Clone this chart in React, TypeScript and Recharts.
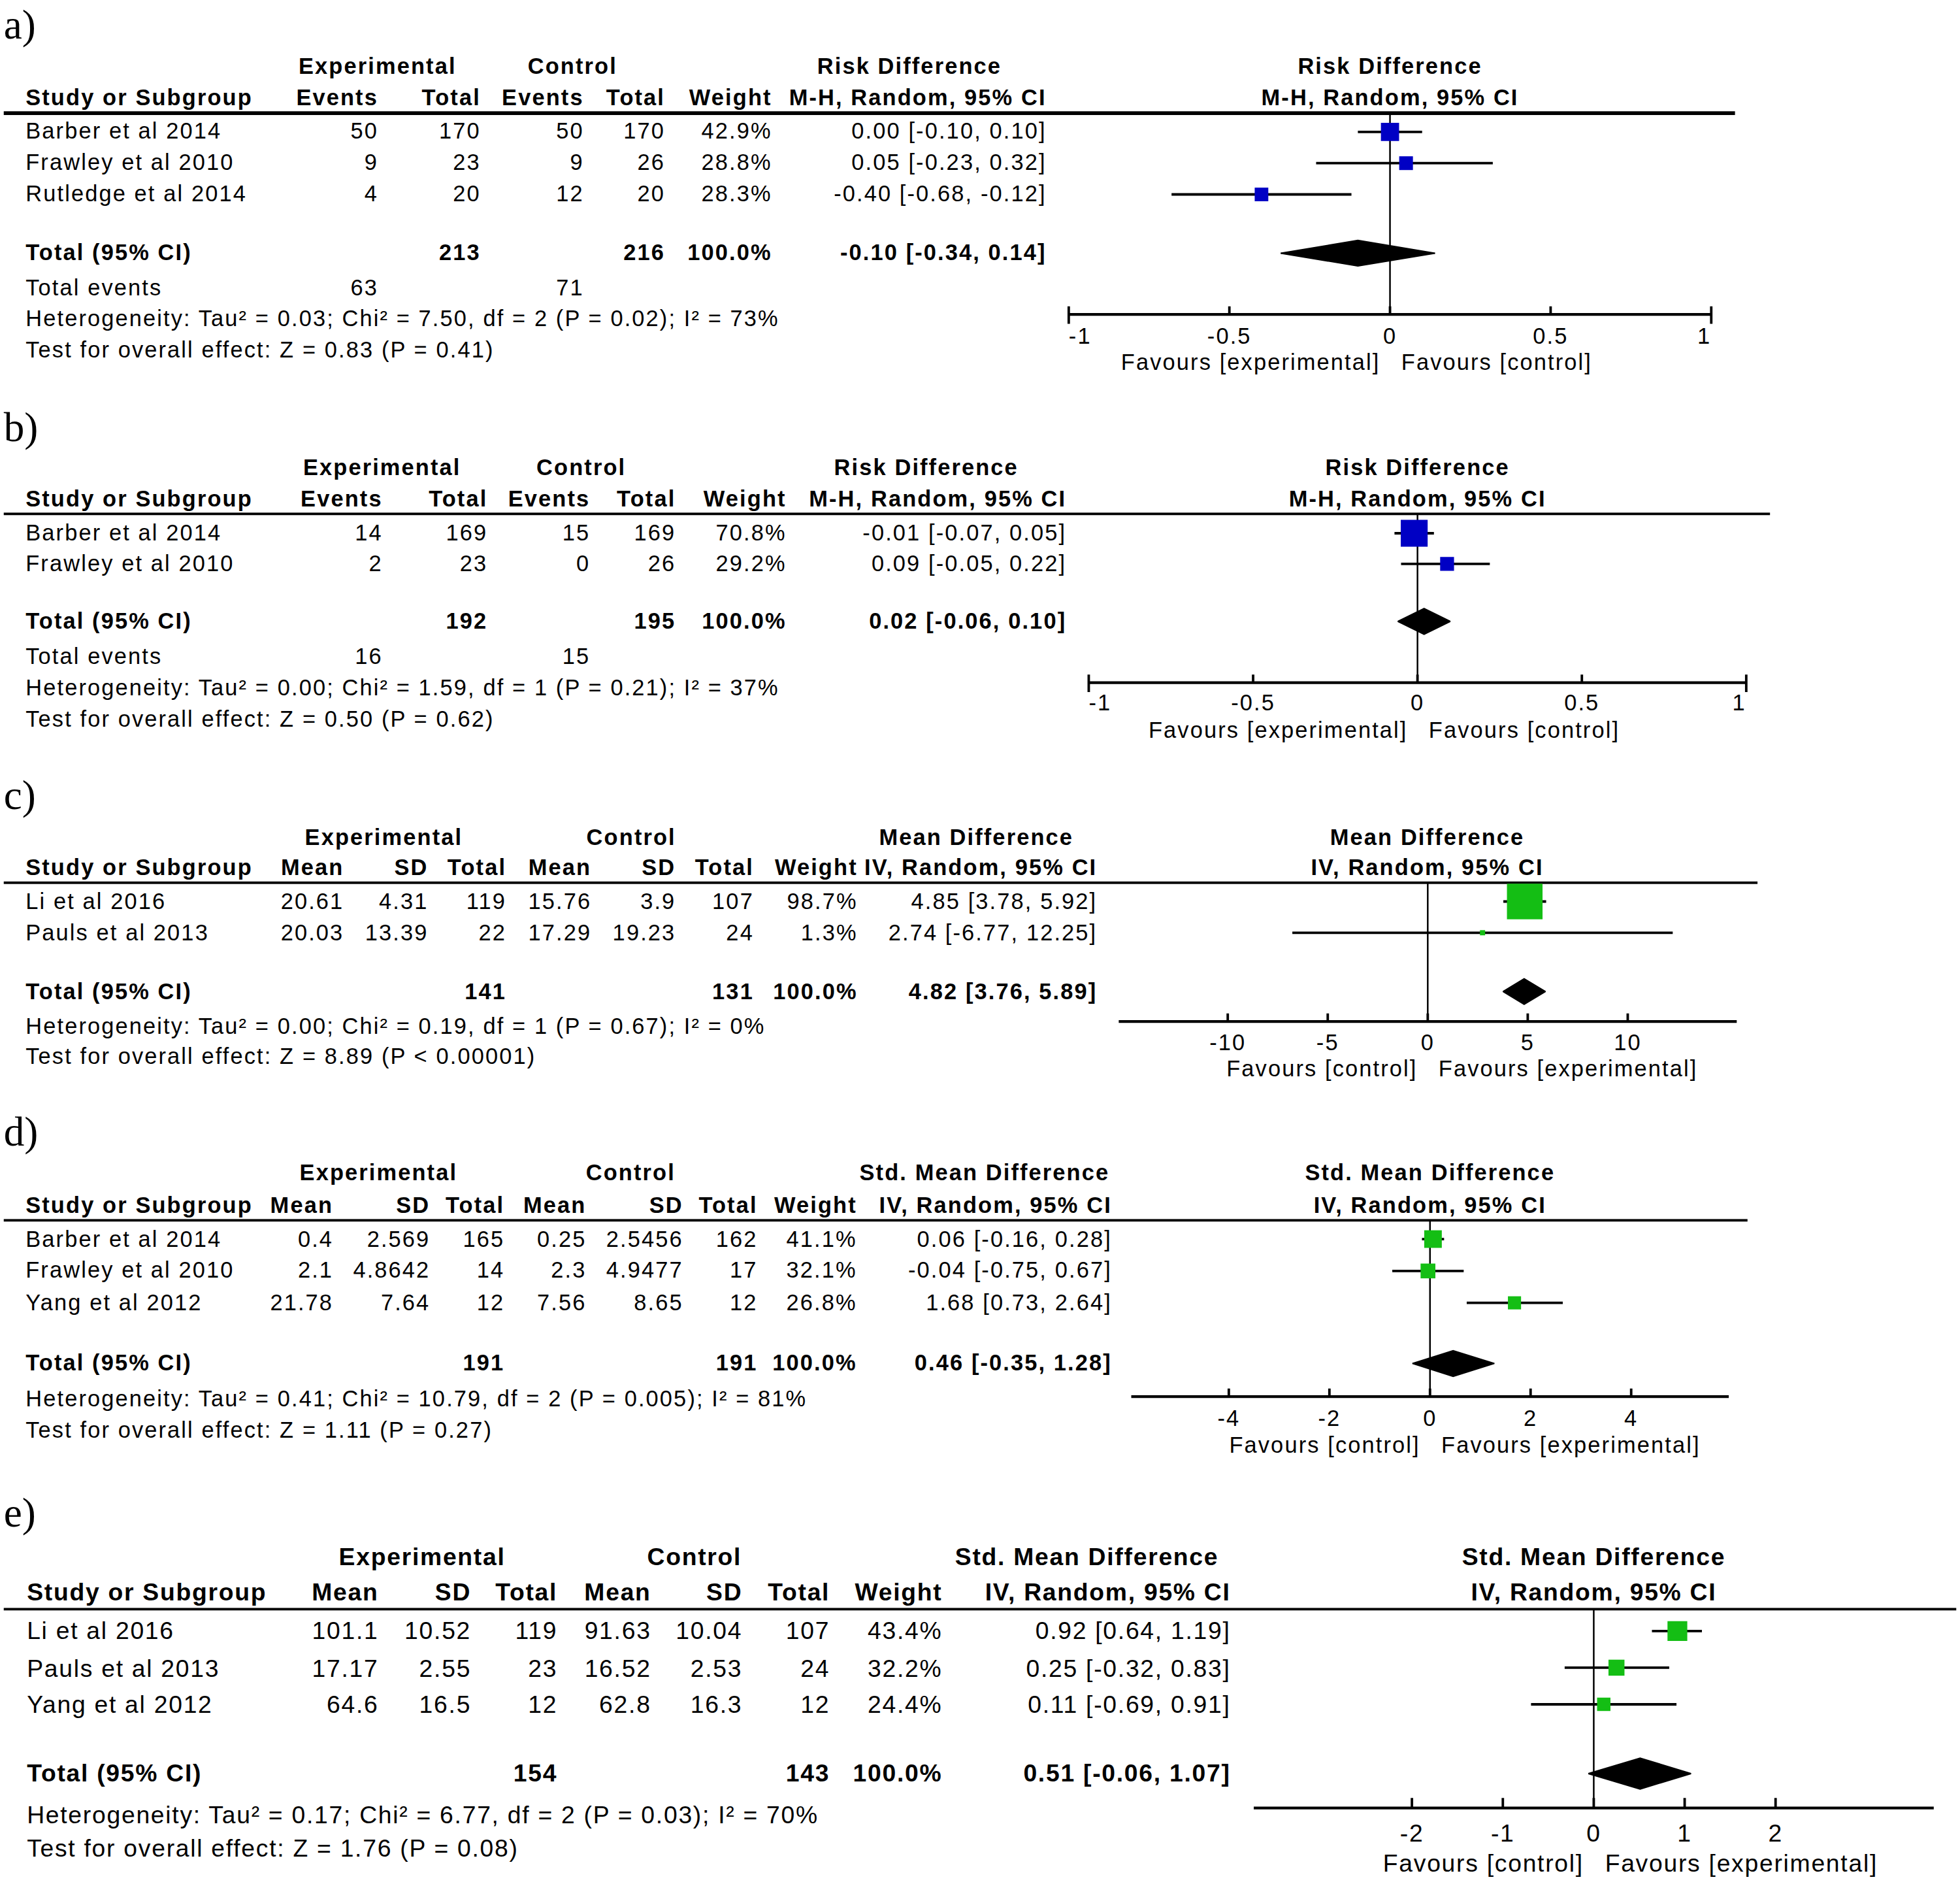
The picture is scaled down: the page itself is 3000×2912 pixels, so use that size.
import React from 'react'
import { ComposedChart, Scatter, Area, XAxis, YAxis, ErrorBar, ReferenceLine } from 'recharts'

// ---- a) Risk difference ----
const aStudy = ['Barber et al 2014', 'Frawley et al 2010', 'Rutledge et al 2014']
const aExpEvents = [50, 9, 4]
const aExpTotal = [170, 23, 20]
const aCtlEvents = [50, 9, 12]
const aCtlTotal = [170, 26, 20]
const aWeight = [42.9, 28.8, 28.3]
const aEst = [0.0, 0.05, -0.4]
const aLow = [-0.1, -0.23, -0.68]
const aHigh = [0.1, 0.32, -0.12]
const aPooled = [-0.1, -0.34, 0.14]
const aTotals = [213, 216]
const aEvents = [63, 71]
const aTicks = [-1, -0.5, 0, 0.5, 1]
const aHet = 'Heterogeneity: Tau² = 0.03; Chi² = 7.50, df = 2 (P = 0.02); I² = 73%'
const aTest = 'Test for overall effect: Z = 0.83 (P = 0.41)'

// ---- b) Risk difference ----
const bStudy = ['Barber et al 2014', 'Frawley et al 2010']
const bExpEvents = [14, 2]
const bExpTotal = [169, 23]
const bCtlEvents = [15, 0]
const bCtlTotal = [169, 26]
const bWeight = [70.8, 29.2]
const bEst = [-0.01, 0.09]
const bLow = [-0.07, -0.05]
const bHigh = [0.05, 0.22]
const bPooled = [0.02, -0.06, 0.1]
const bTotals = [192, 195]
const bEvents = [16, 15]
const bTicks = [-1, -0.5, 0, 0.5, 1]
const bHet = 'Heterogeneity: Tau² = 0.00; Chi² = 1.59, df = 1 (P = 0.21); I² = 37%'
const bTest = 'Test for overall effect: Z = 0.50 (P = 0.62)'

// ---- c) Mean difference ----
const cStudy = ['Li et al 2016', 'Pauls et al 2013']
const cExpMean = [20.61, 20.03]
const cExpSd = [4.31, 13.39]
const cExpTotal = [119, 22]
const cCtlMean = [15.76, 17.29]
const cCtlSd = [3.9, 19.23]
const cCtlTotal = [107, 24]
const cWeight = [98.7, 1.3]
const cEst = [4.85, 2.74]
const cLow = [3.78, -6.77]
const cHigh = [5.92, 12.25]
const cPooled = [4.82, 3.76, 5.89]
const cTotals = [141, 131]
const cTicks = [-10, -5, 0, 5, 10]
const cHet = 'Heterogeneity: Tau² = 0.00; Chi² = 0.19, df = 1 (P = 0.67); I² = 0%'
const cTest = 'Test for overall effect: Z = 8.89 (P < 0.00001)'

// ---- d) Std. mean difference ----
const dStudy = ['Barber et al 2014', 'Frawley et al 2010', 'Yang et al 2012']
const dExpMean = [0.4, 2.1, 21.78]
const dExpSd = [2.569, 4.8642, 7.64]
const dExpTotal = [165, 14, 12]
const dCtlMean = [0.25, 2.3, 7.56]
const dCtlSd = [2.5456, 4.9477, 8.65]
const dCtlTotal = [162, 17, 12]
const dWeight = [41.1, 32.1, 26.8]
const dEst = [0.06, -0.04, 1.68]
const dLow = [-0.16, -0.75, 0.73]
const dHigh = [0.28, 0.67, 2.64]
const dPooled = [0.46, -0.35, 1.28]
const dTotals = [191, 191]
const dTicks = [-4, -2, 0, 2, 4]
const dHet = 'Heterogeneity: Tau² = 0.41; Chi² = 10.79, df = 2 (P = 0.005); I² = 81%'
const dTest = 'Test for overall effect: Z = 1.11 (P = 0.27)'

// ---- e) Std. mean difference ----
const eStudy = ['Li et al 2016', 'Pauls et al 2013', 'Yang et al 2012']
const eExpMean = [101.1, 17.17, 64.6]
const eExpSd = [10.52, 2.55, 16.5]
const eExpTotal = [119, 23, 12]
const eCtlMean = [91.63, 16.52, 62.8]
const eCtlSd = [10.04, 2.53, 16.3]
const eCtlTotal = [107, 24, 12]
const eWeight = [43.4, 32.2, 24.4]
const eEst = [0.92, 0.25, 0.11]
const eLow = [0.64, -0.32, -0.69]
const eHigh = [1.19, 0.83, 0.91]
const ePooled = [0.51, -0.06, 1.07]
const eTotals = [154, 143]
const eTicks = [-2, -1, 0, 1, 2]
const eHet = 'Heterogeneity: Tau² = 0.17; Chi² = 6.77, df = 2 (P = 0.03); I² = 70%'
const eTest = 'Test for overall effect: Z = 1.76 (P = 0.08)'

const S = 3000 / 1568
const W = 1568
const H = 2912 / S
const BLUE = '#0000C4'
const GREEN = '#14BE14'
const FONT = '"Liberation Sans", Arial, sans-serif'

const fmt = (v: number) => v.toFixed(2)
const ciText = (e: number, l: number, h: number) => `${fmt(e)} [${fmt(l)}, ${fmt(h)}]`

type Row = { name: string; cells: (number | string)[]; w: number; est: number; lo: number; hi: number }

function buildRows(names: string[], cols: (number | string)[][], w: number[], est: number[], lo: number[], hi: number[]): Row[] {
  return names.map((name, i) => ({ name, cells: cols.map((c) => c[i]), w: w[i], est: est[i], lo: lo[i], hi: hi[i] }))
}

function Txt({ x, y, size, ls, bold, align = 'left', children }: any) {
  const st: React.CSSProperties = {
    position: 'absolute',
    top: y - size * 0.575,
    fontSize: size,
    lineHeight: `${size * 1.15}px`,
    letterSpacing: ls,
    fontWeight: bold ? 700 : 400,
    whiteSpace: 'nowrap',
  }
  if (align === 'left') st.left = x
  else if (align === 'right') st.right = W - x - ls
  else {
    st.left = x
    st.transform = 'translateX(-50%)'
  }
  return <div style={st}>{children}</div>
}

function makeTick(L: any, domain: number[]) {
  return (p: any) => {
    const v = p.payload.value
    const isEnd = L.endTicks && (v === domain[0] || v === domain[1])
    const anchor = isEnd ? (v === domain[0] ? 'start' : 'end') : 'middle'
    return (
      <g>
        <line x1={p.x} x2={p.x} y1={p.y - L.tickUp} y2={p.y + (isEnd ? L.tickUp + 1 : 0)} stroke="#000" strokeWidth={2} />
        <text x={p.x} y={p.y + L.labelDy} textAnchor={anchor} dominantBaseline="central" fontSize={L.font} letterSpacing={L.ls} fontFamily={FONT} fill="#000">
          {String(v)}
        </text>
      </g>
    )
  }
}

function ForestPlot({ L, rows, pooled, ticks }: any) {
  const pad = 24
  const axisH = 44
  const domain = L.domain
  const yDomain = [(L.rule - L.row0) / L.rowH, (L.axisY - L.row0) / L.rowH]
  const totalRow = (L.totalY - L.row0) / L.rowH
  const dh = L.diamondH / L.rowH
  const pts = rows.map((r: Row, i: number) => ({ x: r.est, y: i, ci: [r.est - r.lo, r.hi - r.est], w: r.w }))
  const diamond = [
    { x: pooled[1], d: [totalRow, totalRow] },
    { x: pooled[0], d: [totalRow - dh, totalRow + dh] },
    { x: pooled[2], d: [totalRow, totalRow] },
  ]
  return (
    <div style={{ position: 'absolute', left: L.x0 - pad, top: L.rule }}>
      <ComposedChart
        width={L.x1 - L.x0 + 2 * pad}
        height={L.axisY - L.rule + axisH}
        margin={{ top: 0, right: pad, bottom: 0, left: pad }}
      >
        <XAxis
          type="number"
          dataKey="x"
          domain={domain}
          ticks={ticks}
          allowDataOverflow
          interval={0}
          height={axisH}
          tickSize={0}
          tickMargin={0}
          tickLine={false}
          axisLine={{ stroke: '#000', strokeWidth: 2.2 }}
          tick={makeTick(L, domain)}
        />
        <YAxis type="number" dataKey="y" domain={yDomain} reversed hide allowDataOverflow />
        <ReferenceLine x={0} stroke="#000" strokeWidth={1.3} />
        <Area
          data={diamond}
          dataKey="d"
          type="linear"
          fill="#000"
          fillOpacity={1}
          stroke="#000"
          strokeWidth={1}
          dot={false}
          activeDot={false}
          isAnimationActive={false}
        />
        <Scatter
          data={pts}
          fill={L.color}
          isAnimationActive={false}
          shape={(p: any) => {
            const s = (3.8 + 0.25 * p.payload.w) * L.boxScale
            return <rect x={p.cx - s / 2} y={p.cy - s / 2} width={s} height={s} fill={L.color} />
          }}
        >
          <ErrorBar dataKey="ci" direction="x" width={0} stroke="#000" strokeWidth={2} isAnimationActive={false} />
        </Scatter>
      </ComposedChart>
    </div>
  )
}

function Panel({ L, rows, totals, events, pooled, ticks, het, test }: any) {
  const f = L.font
  const ls = L.ls
  const zeroX = L.x0 + ((0 - L.domain[0]) / (L.domain[1] - L.domain[0])) * (L.x1 - L.x0)
  const midX = (L.x0 + L.x1) / 2
  const nCols = L.cols.length
  return (
    <>
      <div
        style={{
          position: 'absolute',
          left: 3,
          top: L.labelY - 16.5,
          fontFamily: '"Liberation Serif", "Times New Roman", serif',
          fontSize: 33,
          lineHeight: '37px',
        }}
      >
        {L.label}
      </div>
      {L.groups.map((g: string, i: number) => (
        <Txt key={'g' + i} x={L.groupX[i]} y={L.h1} size={f} ls={ls} bold align="center">{g}</Txt>
      ))}
      <Txt x={midX} y={L.h1} size={f} ls={ls} bold align="center">{L.effect[0]}</Txt>
      <Txt x={L.studyX} y={L.h2} size={f} ls={ls} bold>Study or Subgroup</Txt>
      {L.sub.map((s: string, i: number) => (
        <Txt key={'s' + i} x={L.cols[i]} y={L.h2} size={f} ls={ls} bold align="right">{s}</Txt>
      ))}
      <Txt x={midX} y={L.h2} size={f} ls={ls} bold align="center">{L.effect[1]}</Txt>
      <div style={{ position: 'absolute', left: 3, top: L.rule - 1.1, width: L.ruleEnd - 3, height: 2.2, background: '#000' }} />

      {rows.map((r: Row, i: number) => {
        const y = L.row0 + i * L.rowH
        const vals = [...r.cells.map(String), r.w.toFixed(1) + '%', ciText(r.est, r.lo, r.hi)]
        return (
          <React.Fragment key={'r' + i}>
            <Txt x={L.studyX} y={y} size={f} ls={ls}>{r.name}</Txt>
            {vals.map((v, j) => (
              <Txt key={j} x={L.cols[j]} y={y} size={f} ls={ls} align="right">{v}</Txt>
            ))}
          </React.Fragment>
        )
      })}

      <Txt x={L.studyX} y={L.totalY} size={f} ls={ls} bold>Total (95% CI)</Txt>
      <Txt x={L.cols[L.totalCols[0]]} y={L.totalY} size={f} ls={ls} bold align="right">{totals[0]}</Txt>
      <Txt x={L.cols[L.totalCols[1]]} y={L.totalY} size={f} ls={ls} bold align="right">{totals[1]}</Txt>
      <Txt x={L.cols[nCols - 2]} y={L.totalY} size={f} ls={ls} bold align="right">100.0%</Txt>
      <Txt x={L.cols[nCols - 1]} y={L.totalY} size={f} ls={ls} bold align="right">{ciText(pooled[0], pooled[1], pooled[2])}</Txt>

      {events && (
        <>
          <Txt x={L.studyX} y={L.eventsY} size={f} ls={ls}>Total events</Txt>
          <Txt x={L.cols[0]} y={L.eventsY} size={f} ls={ls} align="right">{events[0]}</Txt>
          <Txt x={L.cols[2]} y={L.eventsY} size={f} ls={ls} align="right">{events[1]}</Txt>
        </>
      )}
      <Txt x={L.studyX} y={L.hetY} size={f} ls={ls}>{het}</Txt>
      <Txt x={L.studyX} y={L.testY} size={f} ls={ls}>{test}</Txt>

      <ForestPlot L={L} rows={rows} pooled={pooled} ticks={ticks} />
      <Txt x={zeroX - 9} y={L.favY} size={f} ls={ls} align="right">{L.fav[0]}</Txt>
      <Txt x={zeroX + 9} y={L.favY} size={f} ls={ls}>{L.fav[1]}</Txt>
    </>
  )
}

const rdSub = ['Events', 'Total', 'Events', 'Total', 'Weight', 'M-H, Random, 95% CI']
const mdSub = ['Mean', 'SD', 'Total', 'Mean', 'SD', 'Total', 'Weight', 'IV, Random, 95% CI']

const base = {
  font: 18, ls: 1.1, studyX: 20.5, tickUp: 6.5, diamondH: 10.3, boxScale: 1,
}

const layoutA = {
  ...base, label: 'a)', labelY: 18, color: BLUE,
  groups: ['Experimental', 'Control', 'Risk Difference'], groupX: [302, 458, 727.5],
  sub: rdSub, effect: ['Risk Difference', 'M-H, Random, 95% CI'], fav: ['Favours [experimental]', 'Favours [control]'],
  h1: 53, h2: 78, rule: 90.5, ruleEnd: 1388,
  row0: 105, rowH: 25, totalY: 202, eventsY: 230, hetY: 255.5, testY: 280,
  cols: [301.5, 383.5, 466, 531, 616.5, 836], totalCols: [1, 3],
  x0: 855, x1: 1369, domain: [-1, 1], axisY: 251, favY: 290, labelDy: 17, endTicks: true,
}

const layoutB = {
  ...base, label: 'b)', labelY: 340, color: BLUE,
  groups: ['Experimental', 'Control', 'Risk Difference'], groupX: [305.6, 465, 741],
  sub: rdSub, effect: ['Risk Difference', 'M-H, Random, 95% CI'], fav: ['Favours [experimental]', 'Favours [control]'],
  h1: 374, h2: 399, rule: 411, ruleEnd: 1416,
  row0: 426.5, rowH: 24.5, totalY: 497, eventsY: 525, hetY: 550.5, testY: 575,
  cols: [305, 389, 471, 539.5, 628, 852], totalCols: [1, 3],
  x0: 871, x1: 1397, domain: [-1, 1], axisY: 546, favY: 584.5, labelDy: 16, endTicks: true,
}

const layoutC = {
  ...base, label: 'c)', labelY: 634, color: GREEN,
  groups: ['Experimental', 'Control', 'Mean Difference'], groupX: [307, 505, 781],
  sub: mdSub, effect: ['Mean Difference', 'IV, Random, 95% CI'], fav: ['Favours [control]', 'Favours [experimental]'],
  h1: 670, h2: 694.5, rule: 706, ruleEnd: 1405.5,
  row0: 721, rowH: 25, totalY: 793, hetY: 821.5, testY: 845.5,
  cols: [274, 341.5, 404, 472, 539.5, 602, 685, 876.6], totalCols: [2, 5],
  x0: 894.6, x1: 1389, domain: [-15.45, 15.45], axisY: 817, favY: 855.5, labelDy: 16.5, endTicks: false,
}

const layoutD = {
  ...base, label: 'd)', labelY: 903, color: GREEN,
  groups: ['Experimental', 'Control', 'Std. Mean Difference'], groupX: [302.8, 504.5, 787.6],
  sub: mdSub, effect: ['Std. Mean Difference', 'IV, Random, 95% CI'], fav: ['Favours [control]', 'Favours [experimental]'],
  h1: 938.5, h2: 964, rule: 976, ruleEnd: 1398,
  row0: 991, rowH: 25.5, totalY: 1090.5, hetY: 1119.5, testY: 1144,
  cols: [265.5, 343, 402.5, 468, 545.5, 605, 684.5, 888.4], totalCols: [2, 5],
  x0: 905, x1: 1383, domain: [-5.94, 5.94], axisY: 1117, favY: 1156, labelDy: 17, endTicks: false,
}

const layoutE = {
  ...base, label: 'e)', labelY: 1208, color: GREEN, font: 19.5, ls: 0.9, studyX: 21.5, tickUp: 8, diamondH: 12.4, boxScale: 1.08,
  groups: ['Experimental', 'Control', 'Std. Mean Difference'], groupX: [337.7, 555.5, 869.5],
  sub: mdSub, effect: ['Std. Mean Difference', 'IV, Random, 95% CI'], fav: ['Favours [control]', 'Favours [experimental]'],
  h1: 1245, h2: 1273.5, rule: 1287, ruleEnd: 1565,
  row0: 1304.5, rowH: 29.3, totalY: 1418.5, hetY: 1451, testY: 1478.5,
  cols: [302, 376, 445, 520, 593, 663, 753, 983.6], totalCols: [2, 5],
  x0: 1003, x1: 1547, domain: [-3.74, 3.74], axisY: 1446, favY: 1490, labelDy: 20, endTicks: false,
}

const aRows = buildRows(aStudy, [aExpEvents, aExpTotal, aCtlEvents, aCtlTotal], aWeight, aEst, aLow, aHigh)
const bRows = buildRows(bStudy, [bExpEvents, bExpTotal, bCtlEvents, bCtlTotal], bWeight, bEst, bLow, bHigh)
const cRows = buildRows(cStudy, [cExpMean, cExpSd, cExpTotal, cCtlMean, cCtlSd, cCtlTotal], cWeight, cEst, cLow, cHigh)
const dRows = buildRows(dStudy, [dExpMean, dExpSd, dExpTotal, dCtlMean, dCtlSd, dCtlTotal], dWeight, dEst, dLow, dHigh)
const eRows = buildRows(eStudy, [eExpMean, eExpSd, eExpTotal, eCtlMean, eCtlSd, eCtlTotal], eWeight, eEst, eLow, eHigh)

export default function App() {
  return (
    <div style={{ position: 'absolute', left: 0, top: 0, width: 3000, height: 2912, overflow: 'hidden', background: '#fff' }}>
      <div
        style={{
          position: 'absolute',
          left: 0,
          top: 0,
          width: W,
          height: H,
          transform: `scale(${S})`,
          transformOrigin: '0 0',
          fontFamily: FONT,
          color: '#000',
        }}
      >
        <Panel L={layoutA} rows={aRows} totals={aTotals} events={aEvents} pooled={aPooled} ticks={aTicks} het={aHet} test={aTest} />
        <Panel L={layoutB} rows={bRows} totals={bTotals} events={bEvents} pooled={bPooled} ticks={bTicks} het={bHet} test={bTest} />
        <Panel L={layoutC} rows={cRows} totals={cTotals} pooled={cPooled} ticks={cTicks} het={cHet} test={cTest} />
        <Panel L={layoutD} rows={dRows} totals={dTotals} pooled={dPooled} ticks={dTicks} het={dHet} test={dTest} />
        <Panel L={layoutE} rows={eRows} totals={eTotals} pooled={ePooled} ticks={eTicks} het={eHet} test={eTest} />
      </div>
    </div>
  )
}
